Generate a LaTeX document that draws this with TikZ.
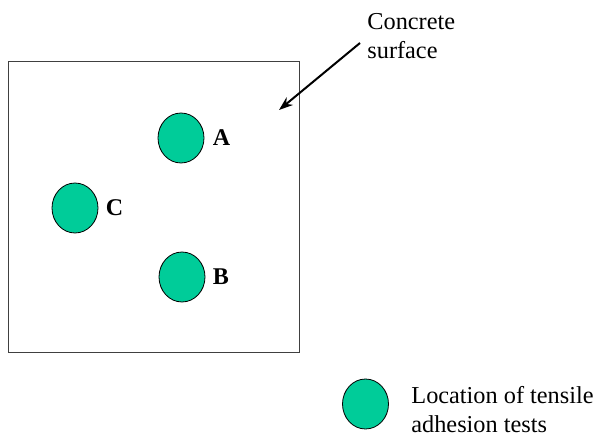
\documentclass[tikz,border=0pt]{standalone}
\usepackage{fontspec}
\setmainfont{Liberation Serif}
\usetikzlibrary{arrows.meta,shapes.geometric,positioning}
\definecolor{testgreen}{RGB}{0,204,153}

\begin{document}
\begin{tikzpicture}[
        x=0.5pt,y=-0.5pt,
        slab/.style={draw=black!75,line width=0.5pt},
        spot/.style={draw,ellipse,line width=0.4pt,fill=testgreen,
                     minimum width=23pt,minimum height=25pt,inner sep=0pt},
        spotlbl/.style={font=\fontsize{12}{13.5}\selectfont\bfseries,
                        inner sep=0pt},
        note/.style={font=\fontsize{12.15}{14.4}\selectfont,align=left,
                     inner sep=0pt,anchor=north west},
        pointer/.style={-{Stealth[length=7pt,width=5pt]},line width=1pt}
      ]
        \useasboundingbox (0,0) rectangle (599,437);
        \draw[slab] (8,62) rectangle (299,353);
        \node[spot] (ptA) at (181,138){};
        \node[spot] (ptC) at (75,208){};
        \node[spot] (ptB) at (182,277){};
        \node[spotlbl,right=4pt of ptA] (lblA){A};
        \node[spotlbl,right=3.5pt of ptC] (lblC){C};
        \node[spotlbl,right=3.5pt of ptB] (lblB){B};
        \node[note] (surf) at (367,13){Concrete\\surface};
        \coordinate (tail) at (360,43);
        \coordinate (tip) at (279,110);
        \draw[pointer] (tail) -- (tip);
        % legend
        \node[spot] (key) at (365.5,404){};
        \node[note] (keytxt) at (411,386){Location of tensile\\adhesion tests};
      \end{tikzpicture}
\end{document}
